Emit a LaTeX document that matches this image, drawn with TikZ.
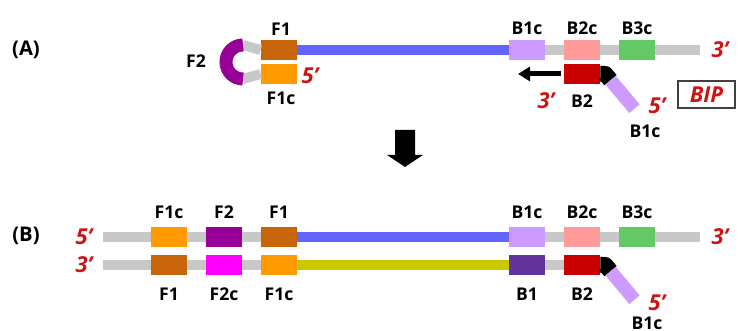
\documentclass[tikz,border=0pt]{standalone}
\usepackage{fontspec}
\setmainfont{Open Sans}
\usepackage{tikz}
\usetikzlibrary{arrows.meta}

\definecolor{strandgray}{RGB}{200,200,200}
\definecolor{strandblue}{RGB}{100,100,250}
\definecolor{strandolive}{RGB}{204,200,0}
\definecolor{fone}{RGB}{200,100,10}
\definecolor{fonec}{RGB}{255,155,0}
\definecolor{ftwo}{RGB}{150,0,150}
\definecolor{ftwoc}{RGB}{255,0,255}
\definecolor{bone}{RGB}{100,50,155}
\definecolor{bonec}{RGB}{205,155,255}
\definecolor{btwo}{RGB}{200,0,0}
\definecolor{btwoc}{RGB}{255,155,155}
\definecolor{bthreec}{RGB}{100,200,100}
\definecolor{primered}{RGB}{204,20,20}

\tikzset{
	seg/.style={minimum width=0.72cm, minimum height=0.4cm, inner sep=0pt},
	lbl/.style={font=\bfseries\fontsize{10}{12}\selectfont},
	panel/.style={font=\bfseries\fontsize{11.5}{13}\selectfont},
	prime/.style={primered, font=\bfseries\itshape\fontsize{12.5}{14}\selectfont},
	gline/.style={strandgray, line width=0.2cm},
	bline/.style={strandblue, line width=0.2cm},
	yline/.style={strandolive, line width=0.2cm},
	tail/.style={fill=bonec, minimum width=0.74cm, minimum height=0.27cm, inner sep=0pt, rotate=-50, anchor=west},
	joint/.style={line width=0.32cm, line join=round},
}

\begin{document}
\begin{tikzpicture}
	\useasboundingbox (0,0) rectangle (14.76,6.62);

	\node (lA)[panel] at (0.52,5.62){(A)};
	\node (f1A)[seg, fill=fone] at (5.58,5.62){};
	\node (f1cA)[seg, fill=fonec] at (5.58,5.14){};
	\node (b1cA)[seg, fill=bonec] at (10.54,5.62){};
	\node (b2cA)[seg, fill=btwoc] at (11.64,5.62){};
	\node (b3cA)[seg, fill=bthreec] at (12.74,5.62){};
	\node (b2A)[seg, fill=btwo] at (11.64,5.14){};
	\coordinate (loopT) at (4.86,5.72);
	\coordinate (loopB) at (4.86,5.04);
	\coordinate (endA) at (14.0,5.62);
	\coordinate (tipA) at (10.36,5.14);

	\draw [gline] (f1A.west) -- (loopT);
	\draw [gline] (f1cA.west) -- (loopB);
	\draw [ftwo, line width=0.26cm] (loopT) arc (90:270:0.34);
	\draw [bline] (f1A) -- (b1cA);
	\draw [gline] (b1cA) -- (b2cA);
	\draw [gline] (b2cA) -- (b3cA);
	\draw [gline] (b3cA) -- (endA);
	\draw [joint] (b2A.east) -- ++(0.1,0) -- ++(-50:0.16) coordinate (bendA);
	\node (tailA)[tail] at (bendA){};
	\draw [-{Triangle[length=0.24cm,width=0.28cm]}, line width=0.1cm, shorten <=1.5pt] (b2A.west) -- (tipA);

	\node (F1a)[lbl] at (5.62,6.04){F1};
	\node (F1ca)[lbl] at (5.62,4.66){F1c};
	\node (F2a)[lbl] at (3.92,5.4){F2};
	\node (p5a)[prime] at (6.2,5.1){5'};
	\node (B1ca)[lbl] at (10.54,6.06){B1c};
	\node (B2ca)[lbl] at (11.64,6.06){B2c};
	\node (B3ca)[lbl] at (12.74,6.06){B3c};
	\node (p3a)[prime] at (14.4,5.62){3'};
	\node (p3b)[prime] at (10.92,4.6){3'};
	\node (B2a)[lbl] at (11.64,4.6){B2};
	\node (p5b)[prime] at (13.14,4.5){5'};
	\node (B1cb)[lbl] at (12.9,4.0){B1c};
	\node (BIP)[prime, draw=black!75, line width=0.9pt, minimum width=1.14cm, minimum height=0.5cm] at (14.13,4.73){BIP};

	\fill (7.9,4.02) -- (8.3,4.02) -- (8.3,3.52) -- (8.46,3.52) -- (8.1,3.28) -- (7.74,3.52) -- (7.9,3.52) -- cycle;

	\node (lB)[panel] at (0.52,1.9){(B)};
	\node (f1cB)[seg, fill=fonec] at (3.38,1.88){};
	\node (f2B)[seg, fill=ftwo] at (4.48,1.88){};
	\node (f1B)[seg, fill=fone] at (5.58,1.88){};
	\node (b1cB)[seg, fill=bonec] at (10.54,1.88){};
	\node (b2cB)[seg, fill=btwoc] at (11.64,1.88){};
	\node (b3cB)[seg, fill=bthreec] at (12.74,1.88){};
	\node (f1Bl)[seg, fill=fone] at (3.38,1.32){};
	\node (f2cBl)[seg, fill=ftwoc] at (4.48,1.32){};
	\node (f1cBl)[seg, fill=fonec] at (5.58,1.32){};
	\node (b1Bl)[seg, fill=bone] at (10.54,1.32){};
	\node (b2Bl)[seg, fill=btwo] at (11.64,1.32){};
	\coordinate (startT) at (2.06,1.88);
	\coordinate (startB) at (2.06,1.32);
	\coordinate (endB) at (14.0,1.88);

	\draw [gline] (startT) -- (f1cB);
	\draw [gline] (f1cB) -- (f2B);
	\draw [gline] (f2B) -- (f1B);
	\draw [bline] (f1B) -- (b1cB);
	\draw [gline] (b1cB) -- (b2cB);
	\draw [gline] (b2cB) -- (b3cB);
	\draw [gline] (b3cB) -- (endB);
	\draw [gline] (startB) -- (f1Bl);
	\draw [gline] (f1Bl) -- (f2cBl);
	\draw [gline] (f2cBl) -- (f1cBl);
	\draw [yline] (f1cBl) -- (b1Bl);
	\draw [gline] (b1Bl) -- (b2Bl);
	\draw [joint] (b2Bl.east) -- ++(0.1,0) -- ++(-50:0.16) coordinate (bendB);
	\node (tailB)[tail] at (bendB){};

	\node (p5c)[prime] at (1.68,1.88){5'};
	\node (p3c)[prime] at (1.68,1.32){3'};
	\node (p3d)[prime] at (14.4,1.88){3'};
	\node (F1ct)[lbl] at (3.38,2.38){F1c};
	\node (F2t)[lbl] at (4.48,2.38){F2};
	\node (F1t)[lbl] at (5.58,2.38){F1};
	\node (B1ct)[lbl] at (10.54,2.38){B1c};
	\node (B2ct)[lbl] at (11.64,2.38){B2c};
	\node (B3ct)[lbl] at (12.74,2.38){B3c};
	\node (F1b)[lbl] at (3.38,0.74){F1};
	\node (F2cb)[lbl] at (4.48,0.74){F2c};
	\node (F1cb)[lbl] at (5.58,0.74){F1c};
	\node (B1b)[lbl] at (10.54,0.74){B1};
	\node (B2b)[lbl] at (11.64,0.74){B2};
	\node (p5d)[prime] at (13.14,0.56){5'};
	\node (B1cc)[lbl] at (12.94,0.16){B1c};

\end{tikzpicture}
\end{document}
